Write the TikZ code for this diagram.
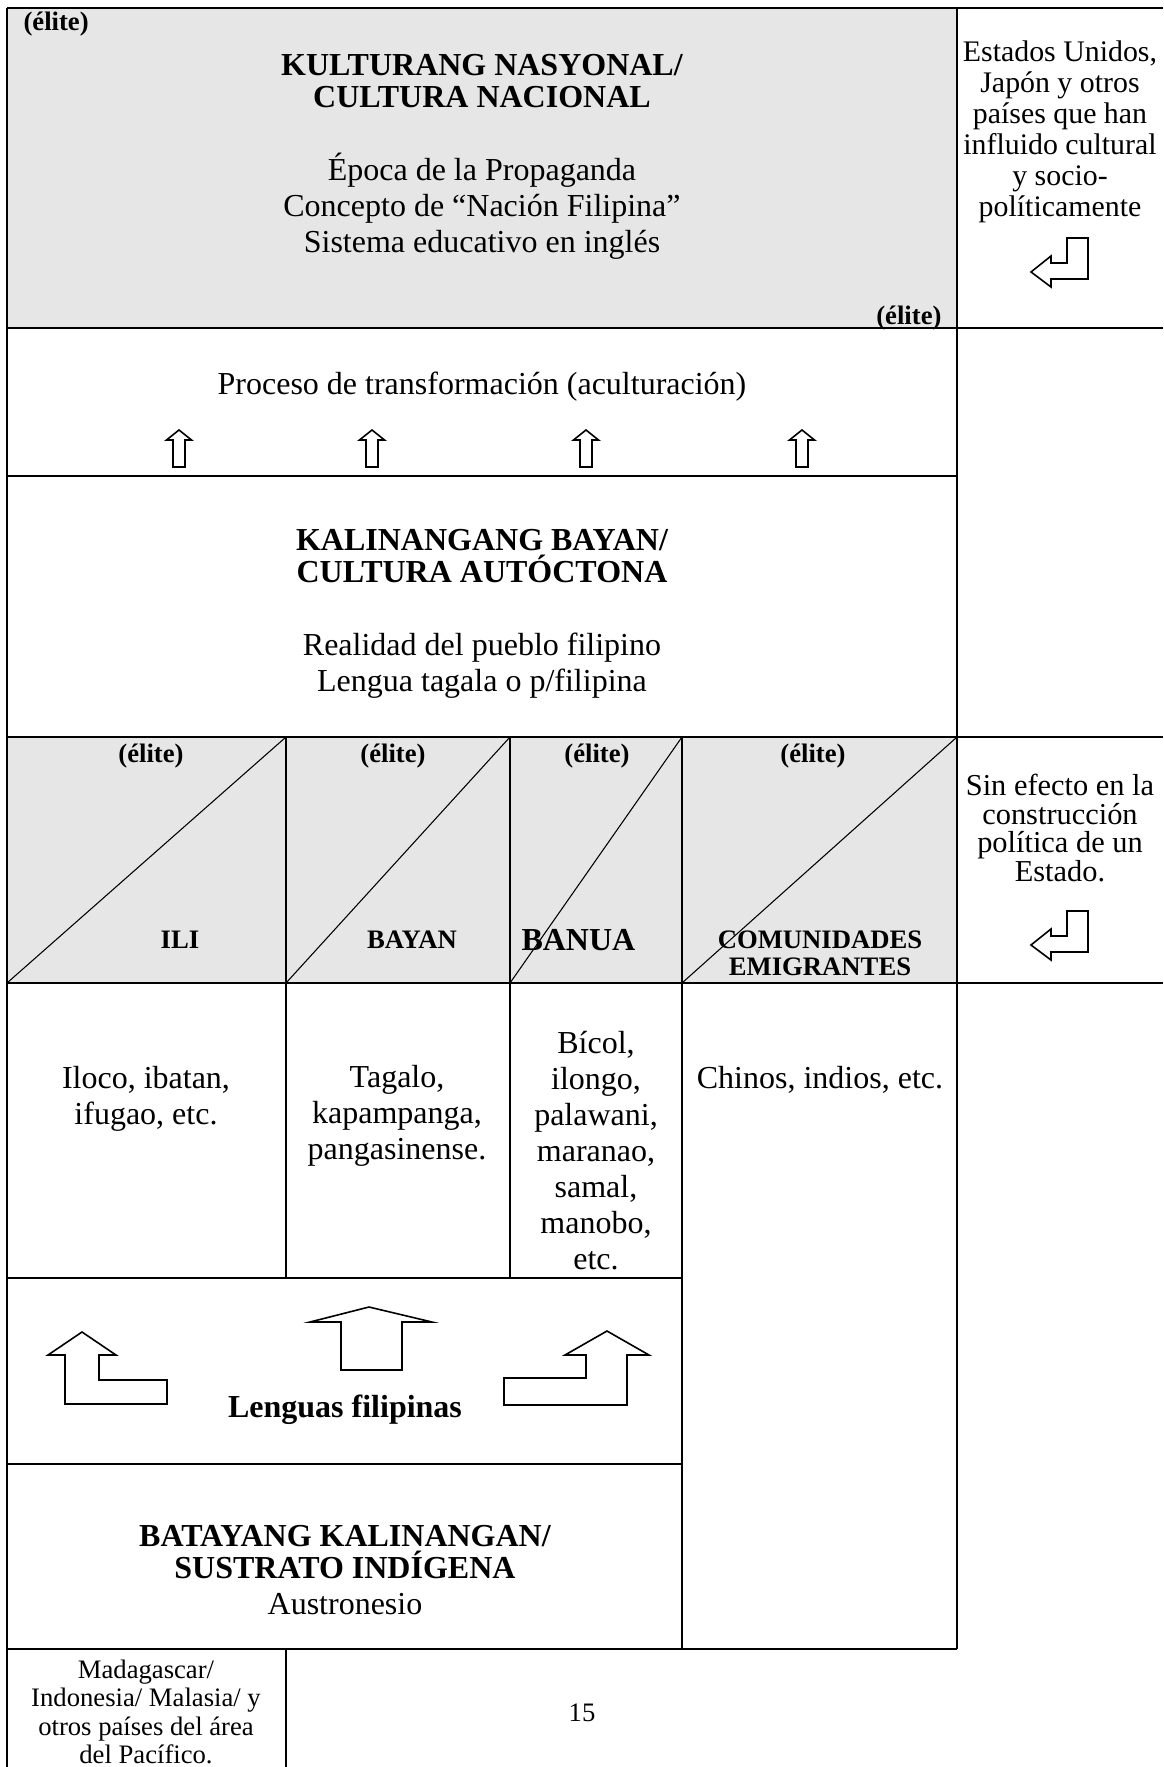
\documentclass[tikz,border=0pt]{standalone}
\usepackage{fontspec}
\setmainfont{Liberation Serif}
\definecolor{cellgray}{RGB}{230,230,230}
\begin{document}
\begin{tikzpicture}[x=0.375pt,y=-0.375pt,
  gridline/.style={line width=1.05pt},
  diagline/.style={line width=0.4pt},
  shp/.style={draw, line width=0.6pt, fill=white, line join=miter},
  big/.style={inner sep=0, align=center, font=\fontsize{12}{13.5}\selectfont},
  bigb/.style={inner sep=0, align=center, font=\fontsize{12}{12}\selectfont\bfseries},
  small/.style={inner sep=0, align=center, font=\fontsize{10}{10.7}\selectfont},
  side/.style={inner sep=0, align=center, font=\fontsize{11.2}{11.6}\selectfont},
  sideb/.style={inner sep=0, align=center, font=\fontsize{11.4}{10.7}\selectfont},
  smallb/.style={inner sep=0, align=center, font=\fontsize{10}{10.2}\selectfont\bfseries},
]
\useasboundingbox (0,0) rectangle (1163,1767);

% gray fills
\fill[cellgray] (7,8) rectangle (957,328);
\fill[cellgray] (7,737) rectangle (957,983);

% diagonals
\draw[diagline] (7,983) -- (286,737);
\draw[diagline] (286,983) -- (510,737);
\draw[diagline] (510,983) -- (682,737);
\draw[diagline] (682,983) -- (957,737);

% grid
\draw[gridline] (7,8) -- (1163,8);
\draw[gridline] (7,8) -- (7,1767);
\draw[gridline] (957,8) -- (957,1649);
\draw[gridline] (7,328) -- (1163,328);
\draw[gridline] (7,476) -- (957,476);
\draw[gridline] (7,737) -- (1163,737);
\draw[gridline] (7,983) -- (1163,983);
\draw[gridline] (286,737) -- (286,1278);
\draw[gridline] (510,737) -- (510,1278);
\draw[gridline] (682,737) -- (682,1649);
\draw[gridline] (7,1278) -- (682,1278);
\draw[gridline] (7,1464) -- (682,1464);
\draw[gridline] (7,1649) -- (957,1649);
\draw[gridline] (286,1649) -- (286,1767);

% top box
\node[smallb, anchor=west] (eliteA) at (23,24) {(élite)};
\node[bigb] (titleA) at (482,81) {KULTURANG NASYONAL/\\CULTURA NACIONAL};
\node[big] (bodyA) at (482,206) {Época de la Propaganda\\Concepto de “Nación Filipina”\\Sistema educativo en inglés};
\node[smallb, anchor=east] (eliteB) at (942,318) {(élite)};

% right column top
\node[side] (extA) at (1060,132) {Estados Unidos,\\Japón y otros\\países que han\\influido cultural\\y socio-\\políticamente};
\draw[shp] (1067,238) -- (1088,238) -- (1088,279) -- (1051,279) -- (1051,287) -- (1031,272) -- (1051,256) -- (1051,263) -- (1067,263) -- cycle;

% process row
\node[big] (proc) at (482,387) {Proceso de transformación (aculturación)};
\foreach \cx in {179,372,586,802}{
  \draw[shp] (\cx,430) -- (\cx+12.5,440) -- (\cx+6,440) -- (\cx+6,467) -- (\cx-6,467) -- (\cx-6,440) -- (\cx-12.5,440) -- cycle;
}

% kalinangang bayan
\node[bigb] (titleB) at (482,556) {KALINANGANG BAYAN/\\CULTURA AUTÓCTONA};
\node[big] (bodyB) at (482,666) {Realidad del pueblo filipino\\Lengua tagala o p/filipina};

% gray row labels
\node[smallb] (e1) at (151,756) {(élite)};
\node[smallb] (e2) at (393,756) {(élite)};
\node[smallb] (e3) at (597,756) {(élite)};
\node[smallb] (e4) at (813,756) {(élite)};
\node[smallb] (ili) at (180,940) {ILI};
\node[smallb] (bayan) at (412,940) {BAYAN};
\node[bigb, anchor=west] (banua) at (521,940) {BANUA};
\node[smallb] (comu) at (820,953) {COMUNIDADES\\EMIGRANTES};

% right column middle
\node[sideb] (extB) at (1060,828) {Sin efecto en la\\construcción\\política de un\\Estado.};
\draw[shp] (1067,911) -- (1088,911) -- (1088,952) -- (1051,952) -- (1051,960) -- (1031,945) -- (1051,929) -- (1051,936) -- (1067,936) -- cycle;

% language cells
\node[big] (c1) at (146,1099) {Iloco, ibatan,\\ifugao, etc.};
\node[big] (c2) at (397,1116) {Tagalo,\\kapampanga,\\pangasinense.};
\node[big] (c3) at (596,1151) {Bícol,\\ilongo,\\palawani,\\maranao,\\samal,\\manobo,\\etc.};
\node[big] (c4) at (820,1080) {Chinos, indios, etc.};

% lenguas filipinas
\draw[shp] (82,1332) -- (116,1355) -- (99,1355) -- (99,1380) -- (167,1380) -- (167,1404) -- (65,1404) -- (65,1355) -- (48,1355) -- cycle;
\draw[shp] (369,1307) -- (432,1322) -- (402,1322) -- (402,1370) -- (341,1370) -- (341,1322) -- (310,1322) -- cycle;
\draw[shp] (607,1331) -- (649,1355) -- (627,1355) -- (627,1405) -- (504,1405) -- (504,1378) -- (586,1378) -- (586,1355) -- (565,1355) -- cycle;
\node[bigb] (leng) at (345,1410) {Lenguas filipinas};

% batayang
\node[bigb] (titleC) at (345,1552) {BATAYANG KALINANGAN/\\SUSTRATO INDÍGENA};
\node[big] (bodyC) at (345,1604) {Austronesio};

% bottom
\node[small] (extC) at (146,1712) {Madagascar/\\Indonesia/ Malasia/ y\\otros países del área\\del Pacífico.};
\node[small] (page) at (582,1713) {15};
\end{tikzpicture}
\end{document}
